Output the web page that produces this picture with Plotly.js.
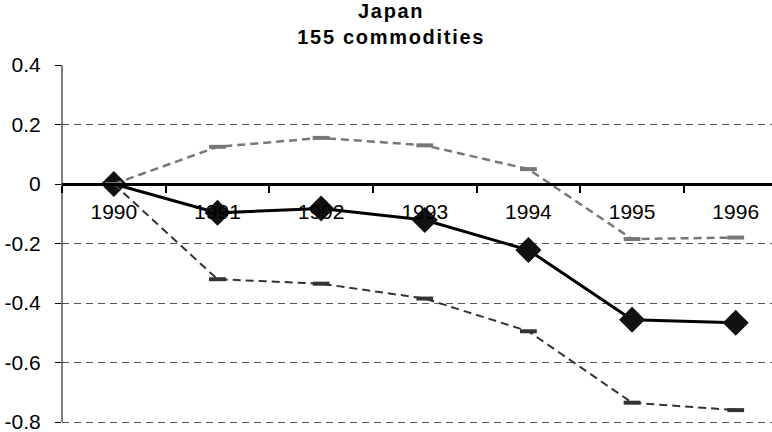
<!DOCTYPE html>
<html>
<head>
<meta charset="utf-8">
<script src="https://cdn.plot.ly/plotly-3.0.1.min.js"></script>
<style>
html,body{margin:0;padding:0;background:#fff;}
#chart{width:772px;height:432px;}
#chart .annotation-text{letter-spacing:1.7px;}
</style>
</head>
<body>
<div id="chart"></div>
<script>
// Data
const years = ["1990", "1991", "1992", "1993", "1994", "1995", "1996"];
const central = [0, -0.097, -0.082, -0.121, -0.222, -0.456, -0.466];
const upperBound = [0, 0.125, 0.155, 0.13, 0.05, -0.185, -0.18];
const lowerBound = [0, -0.32, -0.335, -0.385, -0.495, -0.735, -0.76];
const yTicks = [0.4, 0.2, 0, -0.2, -0.4, -0.6, -0.8];
const yTickText = ["0.4", "0.2", "0", "-0.2", "-0.4", "-0.6", "-0.8"];
const titleText = "<b>Japan<br>155 commodities</b>";

const font = "Liberation Sans, Arial, sans-serif";

const traces = [
  {
    x: years, y: central, type: "scatter", mode: "lines+markers",
    line: {color: "#000", width: 3},
    marker: {symbol: "diamond", size: 20, color: "#111", line: {width: 0}},
    hoverinfo: "skip", cliponaxis: false
  },
  {
    x: years, y: lowerBound, type: "scatter", mode: "lines+markers",
    line: {color: "#333", width: 2, dash: "8px,5px"},
    marker: {symbol: "line-ew", size: 12, line: {color: "#333", width: 4}},
    hoverinfo: "skip"
  },
  {
    x: years, y: upperBound, type: "scatter", mode: "lines+markers",
    line: {color: "#777", width: 2.5, dash: "8px,5px"},
    marker: {symbol: "line-ew", size: 12, line: {color: "#777", width: 4}},
    hoverinfo: "skip"
  }
];

const layout = {
  width: 772, height: 432,
  margin: {l: 62, r: 0, t: 65, b: 7, pad: 0},
  paper_bgcolor: "#fff", plot_bgcolor: "#fff",
  showlegend: false,
  font: {family: font, color: "#000"},
  annotations: [{
    text: titleText,
    xref: "paper", yref: "paper",
    x: 0.463, xanchor: "center",
    y: 1.187, yanchor: "top",
    showarrow: false,
    font: {family: font, size: 20, color: "#000"}
  }],
  xaxis: {
    type: "category",
    range: [-0.5, 6.35],
    anchor: "free", position: 0.81 / 1.21,
    showline: true, linecolor: "#000", linewidth: 3,
    ticks: "outside", tickson: "boundaries", ticklen: 7, tickwidth: 2, tickcolor: "#000",
    ticklabelstandoff: 8,
    showgrid: false, zeroline: false,
    tickfont: {family: font, size: 21, color: "#000"}
  },
  yaxis: {
    range: [-0.81, 0.4],
    domain: [0, 1],
    tickvals: yTicks, ticktext: yTickText,
    ticklabeloverflow: "allow",
    showline: false,
    ticks: "outside", ticklen: 6, tickwidth: 1, tickcolor: "#000",
    ticklabelstandoff: 10,
    showgrid: true, gridcolor: "#555", gridwidth: 1, griddash: "7px,5px",
    zeroline: false,
    tickfont: {family: font, size: 21, color: "#000"}
  },
  shapes: [{
    type: "line", xref: "paper", yref: "y",
    x0: 0, x1: 0, y0: -0.8, y1: 0.4,
    line: {color: "#000", width: 1}
  }]
};

Plotly.newPlot("chart", traces, layout, {staticPlot: true, displayModeBar: false});
</script>
</body>
</html>
